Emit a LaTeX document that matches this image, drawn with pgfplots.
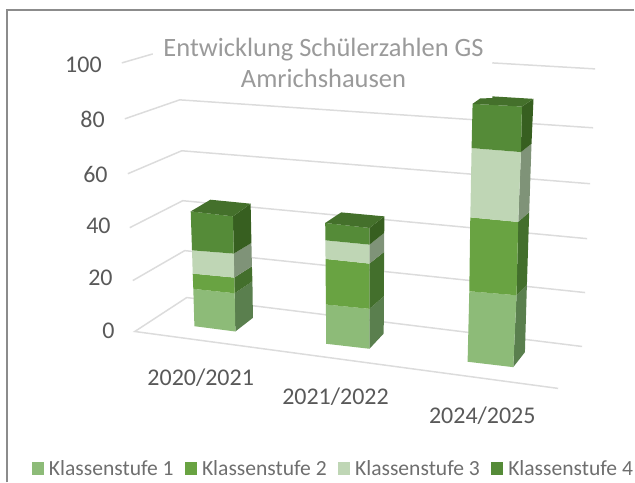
\documentclass[border=0pt]{standalone}
\usepackage{pgfplots}
\pgfplotsset{compat=1.18}
\usepackage{fontspec}
\setmainfont{Carlito}
\definecolor{gridc}{HTML}{DCDCDC}
\definecolor{fa}{HTML}{8DBB78}\definecolor{sa}{HTML}{5A7F4E}
\definecolor{fb}{HTML}{69A342}\definecolor{sb}{HTML}{436F2C}
\definecolor{fc}{HTML}{BFD6B5}\definecolor{sc}{HTML}{7F9378}
\definecolor{fd}{HTML}{558B38}\definecolor{sd}{HTML}{375F20}
\definecolor{td}{HTML}{44702B}
\definecolor{tickc}{HTML}{595959}
\definecolor{titlec}{HTML}{9A9A9A}
\definecolor{legc}{HTML}{6E6E6E}
\pgfplotsset{
 gl/.style={draw=gridc,line width=1.5pt,forget plot},
 poly/.style={fill=#1,draw=none,forget plot},
 sq/.style={legend image code/.code={\fill[#1] (0pt,-6pt) rectangle (11pt,6pt);}},
}
\begin{document}
\begin{tikzpicture}
\begin{axis}[
 scale only axis,width=635pt,height=483pt,
 xmin=0,xmax=635,ymin=0,ymax=483,y dir=reverse,
 axis lines=none,clip=false,
 legend columns=4,
 legend style={draw=none,fill=none,at={(axis cs:31.6,469)},anchor=west,
   font=\fontsize{21.6}{23}\selectfont\color{legc},
   /tikz/every even column/.append style={column sep=9pt},
   /tikz/every odd column/.append style={column sep=4pt},
   inner sep=0pt,outer sep=0pt},
 legend cell align=left,
]
\path (axis cs:0,0) rectangle (axis cs:635,483);
% frame
\addplot[draw=gray!90,line width=1.3pt,forget plot] coordinates {(7,483) (7,10) (635,10)};
% gridlines
\addplot[gl] coordinates {(122,63) (153,54)};
\addplot[gl] coordinates {(493,63) (596,69)};
\addplot[gl] coordinates {(125,119) (180,100) (594,128)};
\addplot[gl] coordinates {(128,174) (182,151) (591,184)};
\addplot[gl] coordinates {(130,228) (183,201) (588,239)};
\addplot[gl] coordinates {(133,281) (185,251) (586,293)};
\addplot[gl] coordinates {(559,389) (135,332) (187,298) (583,347)};
% bar 1 sides
\addplot[poly=sa] coordinates {(235.7,332) (253.3,318.3) (252.8,281.7) (235,293.7)} --cycle;
\addplot[poly=sb] coordinates {(235,293.7) (252.8,281.7) (252.3,266.7) (234.6,278)} --cycle;
\addplot[poly=sc] coordinates {(234.6,278) (252.3,266.7) (251.8,243.3) (234.1,254)} --cycle;
\addplot[poly=sd] coordinates {(234.1,254) (251.8,243.3) (251,204) (233.3,216.7)} --cycle;
% bar 1 fronts
\addplot[poly=fa] coordinates {(194.7,326.7) (235.7,332) (235,293.7) (193.6,289.3)} --cycle;
\addplot[poly=fb] coordinates {(193.6,289.3) (235,293.7) (234.6,278) (193,274)} --cycle;
\addplot[poly=fc] coordinates {(193,274) (234.6,278) (234.1,254) (192.3,250.7)} --cycle;
\addplot[poly=fd] coordinates {(192.3,250.7) (234.1,254) (233.3,216.7) (191,211.7)} --cycle;
\addplot[poly=td] coordinates {(191,211.7) (233.3,216.7) (251,204) (210.7,200)} --cycle;
% bar 2 sides
\addplot[poly=sa] coordinates {(370,349.3) (384.3,334) (384.4,296.7) (370,309.3)} --cycle;
\addplot[poly=sb] coordinates {(370,309.3) (384.4,296.7) (384.7,252.3) (370,264)} --cycle;
\addplot[poly=sc] coordinates {(370,264) (384.7,252.3) (384.8,233.3) (370,245)} --cycle;
\addplot[poly=sd] coordinates {(370,245) (384.8,233.3) (385,216.7) (370,228.3)} --cycle;
% bar 2 fronts
\addplot[poly=fa] coordinates {(326.7,344.3) (370,349.3) (370,309.3) (326.4,305)} --cycle;
\addplot[poly=fb] coordinates {(326.4,305) (370,309.3) (370,264) (326,259.3)} --cycle;
\addplot[poly=fc] coordinates {(326,259.3) (370,264) (370,245) (325.9,240.7)} --cycle;
\addplot[poly=fd] coordinates {(325.9,240.7) (370,245) (370,228.3) (325.7,223.3)} --cycle;
\addplot[poly=td] coordinates {(325.7,223.3) (370,228.3) (385,216.7) (341.7,212.7)} --cycle;
% bar 3 sides
\addplot[poly=sa] coordinates {(514,367.7) (525.7,352.7) (527.7,285) (517.3,295.7)} --cycle;
\addplot[poly=sb] coordinates {(517.3,295.7) (527.7,285) (530,212.3) (519,222.3)} --cycle;
\addplot[poly=sc] coordinates {(519,222.3) (530,212.3) (532.3,144) (521.7,152.3)} --cycle;
\addplot[poly=sd] coordinates {(521.7,152.3) (532.3,144) (534.3,99) (522.7,106.7)} --cycle;
% bar 3 fronts
\addplot[poly=fa] coordinates {(468.3,362.3) (514,367.7) (517.3,295.7) (470,291.7)} --cycle;
\addplot[poly=fb] coordinates {(470,291.7) (517.3,295.7) (519,222.3) (471,217.7)} --cycle;
\addplot[poly=fc] coordinates {(471,217.7) (519,222.3) (521.7,152.3) (472.3,148.3)} --cycle;
\addplot[poly=fd] coordinates {(472.3,148.3) (521.7,152.3) (522.7,106.7) (473.3,104)} --cycle;
\addplot[poly=td] coordinates {(473.3,104) (522.7,106.7) (534.3,99) (493,96.5) (493,98.3) (481,98.5)} --cycle;
% legend
\addlegendimage{sq=fa}\addlegendentry{Klassenstufe 1}
\addlegendimage{sq=fb}\addlegendentry{Klassenstufe 2}
\addlegendimage{sq=fc}\addlegendentry{Klassenstufe 3}
\addlegendimage{sq=fd}\addlegendentry{Klassenstufe 4}
% text
\node[font=\fontsize{26.5}{32}\selectfont,text=titlec,align=center,anchor=center] at (axis cs:324,63) {Entwicklung Schülerzahlen GS\\Amrichshausen};
\foreach \t/\xx/\yy in {100/102/65,80/105/120,60/108/175,40/111/226,20/113/278,0/115/331}{
 \edef\tmp{\noexpand\node[font=\noexpand\fontsize{24}{25}\noexpand\selectfont,text=tickc,anchor=east,inner sep=0pt] at (axis cs:\xx,\yy) {\t};}\tmp
}
\foreach \t/\xx/\yy in {2020\slash2021/201/378,2021\slash2022/336/397,2024\slash2025/483/416}{
 \edef\tmp{\noexpand\node[font=\noexpand\fontsize{24}{25}\noexpand\selectfont,text=tickc,anchor=center,inner sep=0pt] at (axis cs:\xx,\yy) {\t};}\tmp
}
\end{axis}
\end{tikzpicture}
\end{document}
